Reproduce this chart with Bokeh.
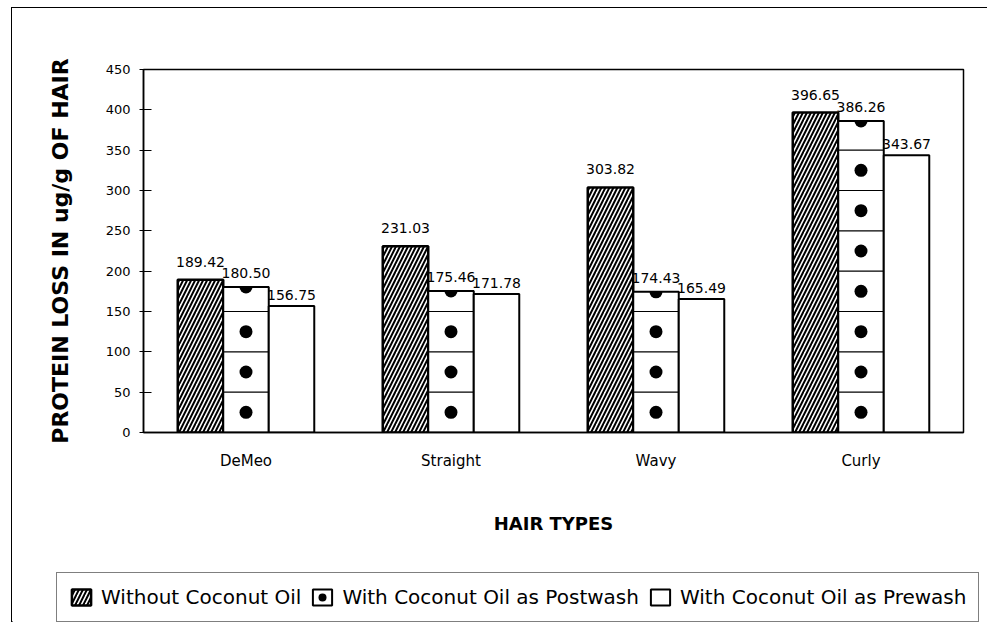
from math import pi
from bokeh.plotting import figure
from bokeh.layouts import column
from bokeh.models import (ColumnDataSource, FactorRange, Range1d, FixedTicker,
                          Legend, LegendItem)
from bokeh.transform import dodge
from bokeh.core.properties import value
from bokeh.embed import file_html
from bokeh.resources import INLINE

# ---------------- data ----------------
hair_types = ["DeMeo", "Straight", "Wavy", "Curly"]
without_oil = [189.42, 231.03, 303.82, 396.65]
postwash = [180.50, 175.46, 174.43, 386.26]
prewash = [156.75, 171.78, 165.49, 343.67]
y_ticks = [0, 50, 100, 150, 200, 250, 300, 350, 400, 450]
series_names = ["Without Coconut Oil", "With Coconut Oil as Postwash",
                "With Coconut Oil as Prewash"]
y_title = "PROTEIN LOSS IN ug/g OF HAIR"
x_title = "HAIR TYPES"
cell = 50  # pattern cell height of the postwash bars

FONT = "DejaVu Sans"
W = 0.222
HATCH = dict(hatch_pattern="/", hatch_color="black", hatch_scale=8, hatch_weight=2)

p = figure(x_range=FactorRange(*hair_types), y_range=Range1d(0, 450),
           width=975, height=545, output_backend="svg", toolbar_location=None,
           min_border_left=131, min_border_right=24, min_border_top=61,
           min_border_bottom=121)
p.frame_align = False
p.xgrid.visible = False
p.ygrid.visible = False
p.outline_line_color = "black"
p.outline_line_width = 1.5
p.background_fill_color = "white"
p.border_fill_color = "white"

src = ColumnDataSource(dict(
    cat=hair_types, without=without_oil, post=postwash, pre=prewash,
    lw=[f"{v:.2f}" for v in without_oil],
    lp=[f"{v:.2f}" for v in postwash],
    lr=[f"{v:.2f}" for v in prewash],
))

p.vbar(x=dodge("cat", -W, range=p.x_range), top="without", width=W,
       source=src, fill_color="white", line_color="black", line_width=2.5, **HATCH)
p.vbar(x=dodge("cat", 0, range=p.x_range), top="post", width=W,
       source=src, fill_color="white", line_color="black", line_width=2)
p.vbar(x=dodge("cat", W, range=p.x_range), top="pre", width=W,
       source=src, fill_color="white", line_color="black", line_width=2)

# postwash pattern: cell lines and dots
line_cat, line_y, dot_cat, dot_y = [], [], [], []
for c, v in zip(hair_types, postwash):
    k = 1
    while k * cell < v:
        line_cat.append(c)
        line_y.append(k * cell)
        k += 1
    for j in range(int(v // cell)):
        dot_cat.append(c)
        dot_y.append(j * cell + cell / 2)
lsrc = ColumnDataSource(dict(cat=line_cat, y=line_y))
dsrc = ColumnDataSource(dict(cat=dot_cat, y=dot_y))
p.segment(x0=dodge("cat", -W / 2, range=p.x_range), y0="y",
          x1=dodge("cat", W / 2, range=p.x_range), y1="y", source=lsrc,
          line_color="black", line_width=1.2)
p.scatter(x=dodge("cat", 0, range=p.x_range), y="y", source=dsrc,
          marker="circle", size=13, fill_color="black", line_color=None)
p.wedge(x=dodge("cat", 0, range=p.x_range), y="post", source=src, radius=6.5,
        radius_units="screen", start_angle=pi, end_angle=2 * pi,
        fill_color="black", line_color=None)

# value labels
common = dict(source=src, text_align="center", text_baseline="bottom",
              text_font=value(FONT), text_font_size="14px", text_color="black")
p.text(x=dodge("cat", -W, range=p.x_range), y="without", text="lw",
       y_offset=-13, **common)
p.text(x=dodge("cat", 0, range=p.x_range), y="post", text="lp",
       y_offset=-9, **common)
p.text(x=dodge("cat", W, range=p.x_range), y="pre", text="lr",
       y_offset=-6, **common)

# axes
p.yaxis.ticker = FixedTicker(ticks=y_ticks)
p.yaxis.minor_tick_line_color = None
p.yaxis.major_tick_in = 8
p.yaxis.major_tick_out = 4
p.yaxis.major_tick_line_width = 1.2
p.yaxis.major_label_standoff = 9
p.yaxis.axis_line_width = 1.5
p.yaxis.axis_label = y_title
p.yaxis.axis_label_text_font = FONT
p.yaxis.axis_label_text_font_size = "22px"
p.yaxis.axis_label_text_font_style = "bold"
p.yaxis.axis_label_standoff = 30

p.xaxis.major_tick_line_color = None
p.xaxis.major_tick_in = 0
p.xaxis.major_tick_out = 0
p.xaxis.major_label_standoff = 19
p.xaxis.axis_line_width = 1.5
p.xaxis.axis_label = x_title
p.xaxis.axis_label_text_font = FONT
p.xaxis.axis_label_text_font_size = "18px"
p.xaxis.axis_label_text_font_style = "bold"
p.xaxis.axis_label_standoff = 40

for ax in (p.xaxis, p.yaxis):
    ax.axis_line_color = "black"
    ax.major_label_text_font = FONT
    ax.major_label_text_color = "black"
    ax.axis_label_text_color = "black"
p.yaxis.major_label_text_font_size = "13px"
p.xaxis.major_label_text_font_size = "15px"

# ---------------- legend strip ----------------
lf = figure(width=975, height=69, x_range=Range1d(0, 1), y_range=Range1d(0, 1),
            x_axis_type=None, y_axis_type=None, output_backend="svg",
            toolbar_location=None, min_border=0)
lf.frame_align = False
lf.outline_line_color = None
lf.xgrid.visible = False
lf.ygrid.visible = False
lf.border_fill_color = "white"
lf.background_fill_color = "white"
# legend proxies kept outside the strip's visible range
g_without = lf.vbar(x=[-5], top=[-5], width=0.1, fill_color="white",
                    line_color="black", line_width=2.5, **HATCH)
g_post = lf.vbar(x=[-5], top=[-5], width=0.1, fill_color="white",
                 line_color="black", line_width=2)
g_dot = lf.scatter(x=[-5], y=[-5], marker="circle", size=13, fill_color="black",
                   line_color=None)
g_pre = lf.vbar(x=[-5], top=[-5], width=0.1, fill_color="white",
                line_color="black", line_width=2)
legend = Legend(items=[
    LegendItem(label=series_names[0], renderers=[g_without]),
    LegendItem(label=series_names[1], renderers=[g_post, g_dot]),
    LegendItem(label=series_names[2], renderers=[g_pre]),
], orientation="horizontal", location=(44, 0),
    border_line_color="black", border_line_width=1.5,
    label_text_font=FONT, label_text_font_size="20px", label_text_color="black",
    glyph_width=24, glyph_height=20, padding=12, spacing=9, label_standoff=8,
    margin=0, background_fill_color="white", background_fill_alpha=1)
lf.add_layout(legend, "center")

page = column(p, lf, spacing=0)
page.styles = {"margin-left": "11px", "margin-top": "7px",
               "border-left": "1.5px solid black",
               "border-top": "1.5px solid black"}

open("out.html", "w").write(file_html(page, INLINE))
